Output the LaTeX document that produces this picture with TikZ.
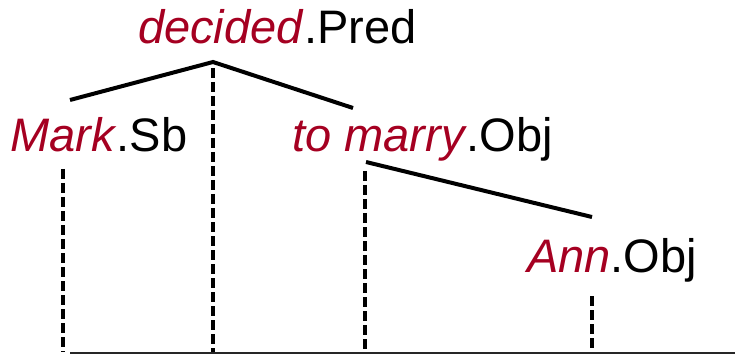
\documentclass[tikz,border=0pt]{standalone}
\usepackage{fontspec}
\setmainfont{Liberation Sans}
\definecolor{wordred}{RGB}{165,0,33}
\tikzset{
  lab/.style={inner sep=0pt, anchor=base west, font=\fontsize{47}{56}\selectfont},
  treeline/.style={line width=4pt},
  proj/.style={line width=3.5pt, dash pattern=on 10pt off 4pt},
  base/.style={line width=1.6pt, black!85}
}
\newcommand{\redword}[1]{\textcolor{wordred}{\textit{#1}}}
\begin{document}
\begin{tikzpicture}[x=1pt,y=-1pt]
\useasboundingbox (0,0) rectangle (735,355);
\node[lab] (pred) at (138,44) {\redword{decided}.Pred};
\node[lab] (sb) at (10,152) {\redword{Mark}.Sb};
\node[lab] (obj1) at (292,152) {\redword{to marry}.Obj};
\node[lab] (obj2) at (527,272) {\redword{Ann}.Obj};
% tree anchors
\coordinate (top) at (213,62);
\coordinate (sbtop) at (70,100);
\coordinate (objtop) at (353,108);
\coordinate (mtop) at (366,162);
\coordinate (anntop) at (592,217);
\draw[treeline] (sbtop) -- (top) -- (objtop);
\draw[treeline] (mtop) -- (anntop);
% projections
\coordinate (b0) at (70,353);
\coordinate (b1) at (735,353);
\draw[proj] (213,68) -- (213,352);
\draw[proj] (63,169) -- (63,352);
\draw[proj] (365,171) -- (365,352);
\draw[proj] (592,296) -- (592,352);
\draw[base] (b0) -- (b1);
\end{tikzpicture}
\end{document}
